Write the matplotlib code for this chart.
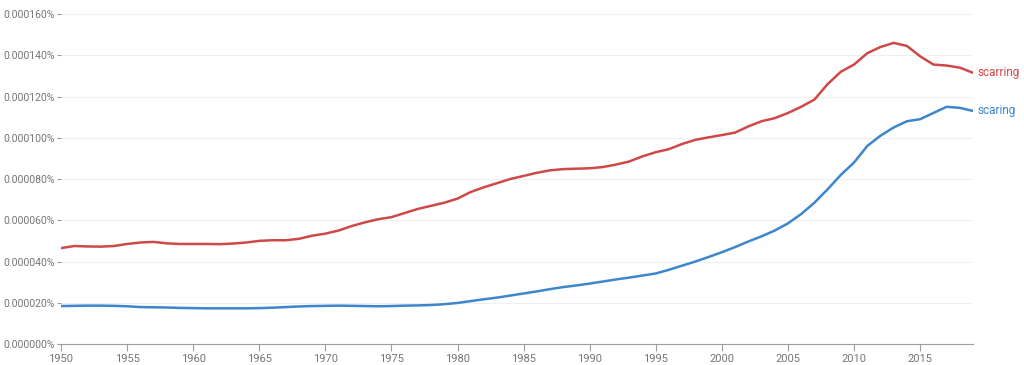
import matplotlib
matplotlib.use("Agg")
from matplotlib import pyplot as plt
from matplotlib.ticker import FuncFormatter

years = list(range(1950, 2020))

# values in percent (units of 1e-5 %)
scarring = [4.65, 4.75, 4.73, 4.72, 4.75, 4.85, 4.92, 4.95, 4.88, 4.85,
            4.85, 4.85, 4.84, 4.87, 4.92, 5.00, 5.03, 5.03, 5.10, 5.25,
            5.35, 5.50, 5.72, 5.90, 6.05, 6.15, 6.35, 6.55, 6.70, 6.85,
            7.05, 7.37, 7.60, 7.80, 8.00, 8.15, 8.30, 8.42, 8.48, 8.50,
            8.52, 8.58, 8.70, 8.85, 9.10, 9.30, 9.45, 9.70, 9.90, 10.02,
            10.13, 10.25, 10.55, 10.80, 10.95, 11.20, 11.50, 11.85, 12.60, 13.20,
            13.55, 14.10, 14.40, 14.60, 14.45, 13.95, 13.55, 13.50, 13.40, 13.15]
scaring = [1.84, 1.85, 1.86, 1.86, 1.85, 1.83, 1.79, 1.78, 1.77, 1.75,
           1.74, 1.73, 1.73, 1.73, 1.73, 1.74, 1.76, 1.79, 1.82, 1.84,
           1.85, 1.86, 1.85, 1.84, 1.83, 1.84, 1.86, 1.87, 1.89, 1.93,
           1.99, 2.08, 2.17, 2.25, 2.35, 2.45, 2.55, 2.66, 2.76, 2.84,
           2.93, 3.03, 3.13, 3.22, 3.32, 3.42, 3.60, 3.80, 4.00, 4.22,
           4.45, 4.70, 4.97, 5.22, 5.50, 5.85, 6.30, 6.85, 7.50, 8.20,
           8.80, 9.60, 10.10, 10.50, 10.80, 10.90, 11.20, 11.50, 11.45, 11.30]
scarring = [v * 1e-5 for v in scarring]
scaring = [v * 1e-5 for v in scaring]

y_ticks = [0, 0.00002, 0.00004, 0.00006, 0.00008, 0.0001, 0.00012, 0.00014, 0.00016]
x_ticks = list(range(1950, 2020, 5))

plt.rcParams['font.family'] = ['Roboto', 'DejaVu Sans']

red = '#cf4848'
blue = '#3d86cc'
grey = '#757575'

fig = plt.figure(figsize=(10.24, 3.65), dpi=100)
ax = fig.add_axes([61 / 1024, 1 - 344 / 365, (973 - 61) / 1024, (344 - 14) / 365])

ax.plot(years, scarring, color=red, lw=1.8)
ax.plot(years, scaring, color=blue, lw=1.8)
ax.annotate('scarring', (years[-1], scarring[-1]), xytext=(3, 0),
            textcoords='offset points', va='center', ha='left',
            color=red, fontsize=8.5, annotation_clip=False)
ax.annotate('scaring', (years[-1], scaring[-1]), xytext=(3, 0),
            textcoords='offset points', va='center', ha='left',
            color=blue, fontsize=8.5, annotation_clip=False)

ax.set_xlim(1950, 2019)
ax.set_ylim(0, 0.00016)
ax.set_xticks(x_ticks)
ax.set_yticks(y_ticks)
ax.yaxis.set_major_formatter(FuncFormatter(lambda v, p: f"{v:.6f}%"))
ax.grid(axis='y', color='#efefef', lw=0.8)
ax.set_axisbelow(True)

for s in ['top', 'right', 'left']:
    ax.spines[s].set_visible(False)
ax.spines['bottom'].set_color('#9e9e9e')
ax.tick_params(axis='x', colors='#9e9e9e', labelcolor=grey, labelsize=8,
               length=5, pad=2)
ax.tick_params(axis='y', colors='#9e9e9e', labelcolor=grey, labelsize=7.5,
               length=3, pad=1.5)

fig.savefig('out.png', dpi=100)
